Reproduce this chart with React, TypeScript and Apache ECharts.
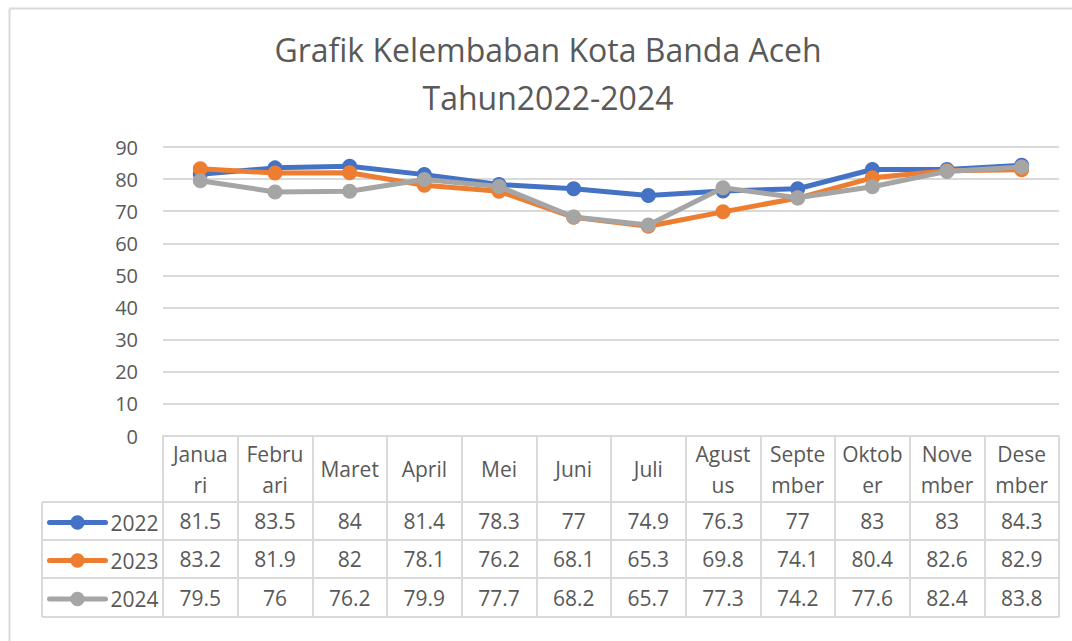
import React, { useEffect, useRef } from "react";
import * as echarts from "echarts";

const TITLE = "Grafik Kelembaban Kota Banda Aceh\nTahun2022-2024";
const months = ["Januari", "Februari", "Maret", "April", "Mei", "Juni", "Juli", "Agustus", "September", "Oktober", "November", "Desember"];
const monthLabels = ["Janua\nri", "Febru\nari", "Maret", "April", "Mei", "Juni", "Juli", "Agust\nus", "Septe\nmber", "Oktob\ner", "Nove\nmber", "Dese\nmber"];
const seriesNames = ["2022", "2023", "2024"];
const v2022 = [81.5, 83.5, 84, 81.4, 78.3, 77, 74.9, 76.3, 77, 83, 83, 84.3];
const v2023 = [83.2, 81.9, 82, 78.1, 76.2, 68.1, 65.3, 69.8, 74.1, 80.4, 82.6, 82.9];
const v2024 = [79.5, 76, 76.2, 79.9, 77.7, 68.2, 65.7, 77.3, 74.2, 77.6, 82.4, 83.8];
const Y_MIN = 0;
const Y_MAX = 90;
const Y_STEP = 10;

const colors = ["#4472C4", "#ED7D31", "#A5A5A5"];
const TEXT = "#595959";
const LINE = "#d9d9d9";
const FONT = "'Open Sans', 'Noto Sans', sans-serif";

// layout
const GL = 163, GT = 147, GW = 896, GH = 289;
const GB = GT + GH; // 436
const TABLE_LEFT = 42;
const ROW_LINES = [502, 540, 578, 617];

export default function App() {
  const ref = useRef<HTMLDivElement>(null);
  useEffect(() => {
    document.body.style.margin = "0";
    const chart = echarts.init(ref.current!, null, { renderer: "svg" });
    const allValues = [v2022, v2023, v2024];
    const rowCenters = ROW_LINES.slice(0, 3).map((y, i) => (y + ROW_LINES[i + 1]) / 2);

    const rowAxes = allValues.map((vals, i) => ({
      type: "category",
      gridIndex: 0,
      position: "bottom",
      data: months,
      boundaryGap: true,
      axisLine: { show: false },
      axisTick: { show: false },
      axisLabel: {
        interval: 0,
        margin: rowCenters[i] - GB,
        verticalAlign: "middle",
        color: TEXT,
        fontSize: 21,
        fontFamily: FONT,
        formatter: (_v: string, idx: number) => String(vals[idx]),
      },
    }));

    const graphics: any[] = [
      { type: "line", shape: { x1: 9.5, y1: 8.5, x2: 1072, y2: 8.5 }, style: { stroke: "#d9d9d9", lineWidth: 2 } },
      { type: "line", shape: { x1: 9.5, y1: 8.5, x2: 9.5, y2: 641 }, style: { stroke: "#d9d9d9", lineWidth: 2 } },
      { type: "line", shape: { x1: TABLE_LEFT, y1: ROW_LINES[0], x2: TABLE_LEFT, y2: ROW_LINES[3] }, style: { stroke: LINE, lineWidth: 2 } },
      ...ROW_LINES.map((y) => ({
        type: "line",
        shape: { x1: TABLE_LEFT, y1: y, x2: GL + GW, y2: y },
        style: { stroke: LINE, lineWidth: 2 },
      })),
    ];

    chart.setOption({
      animation: false,
      color: colors,
      title: {
        text: TITLE,
        left: 543,
        top: 20,
        textAlign: "center",
        textStyle: { color: TEXT, fontSize: 32, fontWeight: "normal", fontFamily: FONT, lineHeight: 48 },
      },
      legend: seriesNames.map((n, i) => ({
        data: [n],
        left: 47,
        top: rowCenters[i] - 9,
        itemWidth: 56,
        itemHeight: 18,
        itemGap: 4,
        padding: 0,
        lineStyle: { width: 5, cap: "round" },
        textStyle: { color: TEXT, fontSize: 21, fontFamily: FONT, padding: [2, 0, 0, 0] },
        selectedMode: false,
      })),
      grid: { left: GL, top: GT, width: GW, height: GH, containLabel: false },
      xAxis: [
        {
          type: "category",
          data: months,
          boundaryGap: true,
          axisLine: { show: true, lineStyle: { color: LINE, width: 2 } },
          axisTick: { show: true, interval: 0, length: ROW_LINES[3] - GB, lineStyle: { color: LINE, width: 2 } },
          axisLabel: {
            interval: 0,
            margin: 33,
            verticalAlign: "middle",
            color: TEXT,
            fontSize: 21,
            lineHeight: 31,
            fontFamily: FONT,
            formatter: (_v: string, idx: number) => monthLabels[idx],
          },
        },
        ...rowAxes,
      ],
      yAxis: {
        type: "value",
        min: Y_MIN,
        max: Y_MAX,
        interval: Y_STEP,
        axisLine: { show: false },
        axisTick: { show: false },
        splitLine: { lineStyle: { color: LINE, width: 2 } },
        axisLabel: { color: TEXT, fontSize: 20, fontFamily: FONT, margin: 25 },
      },
      series: allValues.map((vals, i) => ({
        name: seriesNames[i],
        type: "line",
        data: vals,
        symbol: "circle",
        symbolSize: 15,
        lineStyle: { width: 5, color: colors[i], cap: "round" },
        itemStyle: { color: colors[i] },
        z: 2 + i,
      })),
      graphic: graphics,
    });
    return () => chart.dispose();
  }, []);
  return <div ref={ref} style={{ width: 1072, height: 641 }} />;
}
